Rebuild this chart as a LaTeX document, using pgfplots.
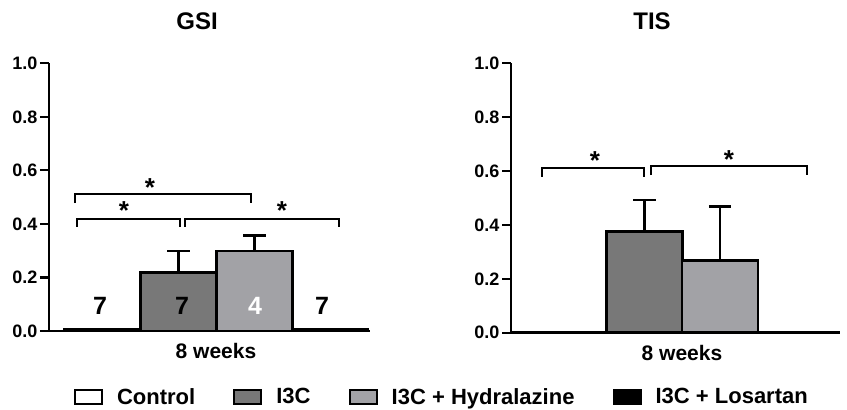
\documentclass[border=0pt]{standalone}
\usepackage{fontspec}
\setmainfont{Liberation Sans}
\usepackage{pgfplots}
\pgfplotsset{compat=1.18}

\definecolor{iiic}{RGB}{120,120,120}
\definecolor{hydra}{RGB}{162,162,166}

% error cap that only runs to the right of the bar centre
% (pgfplots turns the mark by 90 degrees for y error bars)
\pgfdeclareplotmark{halfcap}{%
  \pgfpathmoveto{\pgfqpoint{0pt}{1.2pt}}%
  \pgfpathlineto{\pgfqpoint{0pt}{-21pt}}%
  \pgfusepathqstroke}

\pgfplotsset{
  panel/.style={
    scale only axis, clip=false,
    axis lines=left, axis line style={-, line width=2.6pt},
    ymin=0, ymax=1,
    ytick={0,0.2,0.4,0.6,0.8,1.0},
    yticklabels={0.0,0.2,0.4,0.6,0.8,1.0},
    yticklabel style={font=\fontsize{18}{18}\selectfont\bfseries, xshift=1pt},
    ytick style={line width=2.2pt, black},
    tick align=outside, major tick length=9pt,
    xtick style={draw=none},
    xticklabel style={font=\fontsize{21}{21}\selectfont\bfseries, yshift=0pt},
    xticklabels={8 weeks},
    error bars/y dir=plus, error bars/y explicit,
    error bars/error mark=halfcap,
    error bars/error bar style={line width=2.4pt, black},
    error bars/error mark options={line width=2.4pt, black},
  },
  gbar/.style={ybar, bar shift=0pt, bar width=76, draw=black, line width=2.6pt,
    legend image code/.code={%
      \draw[##1, line width=2.2pt] (0pt,-7pt) rectangle (27pt,7pt);
      \path[draw=none, fill=none] (0pt,0pt) -- (40pt,0pt);}},
}

\begin{document}
\begin{tikzpicture}
\useasboundingbox (0,0) rectangle (847pt,410pt);

% ---------- GSI ----------
\begin{axis}[panel, at={(49pt,79pt)}, anchor=south west,
  width=321pt, height=267.7pt, xmin=49, xmax=370, xtick={216},
  legend columns=4,
  legend style={at={(axis description cs:1.224,-0.2465)}, anchor=center,
    draw=none, fill=none, font=\fontsize{22}{22}\selectfont\bfseries,
    /tikz/every even column/.append style={column sep=36pt}},
]
\addplot[gbar, fill=white] coordinates {(102.5,0.008)};
\addplot[gbar, fill=iiic] coordinates {(178.5,0.219) +- (0,0.080)};
\addplot[gbar, fill=hydra] coordinates {(254.5,0.299) +- (0,0.057)};
\addplot[gbar, fill=black] coordinates {(330,0.008)};
\legend{Control, I3C, I3C + Hydralazine, I3C + Losartan}

\draw[line width=2.2pt] (axis cs:75,0.478) -- (axis cs:75,0.512) -- (axis cs:251,0.512) -- (axis cs:251,0.478);
\draw[line width=2.2pt] (axis cs:77,0.389) -- (axis cs:77,0.418) -- (axis cs:180,0.418) -- (axis cs:180,0.389);
\draw[line width=2.2pt] (axis cs:185,0.389) -- (axis cs:185,0.418) -- (axis cs:339,0.418) -- (axis cs:339,0.389);
\node[font=\fontsize{26}{26}\selectfont\bfseries] at (axis cs:150,0.535) {*};
\node[font=\fontsize{26}{26}\selectfont\bfseries] at (axis cs:124,0.449) {*};
\node[font=\fontsize{26}{26}\selectfont\bfseries] at (axis cs:282,0.449) {*};

\node[font=\fontsize{25}{25}\selectfont\bfseries] at (axis cs:100,0.095) {7};
\node[font=\fontsize{25}{25}\selectfont\bfseries] at (axis cs:182,0.095) {7};
\node[font=\fontsize{25}{25}\selectfont\bfseries, text=white] at (axis cs:255,0.095) {4};
\node[font=\fontsize{25}{25}\selectfont\bfseries] at (axis cs:322,0.095) {7};
\end{axis}

% ---------- TIS ----------
\begin{axis}[panel, at={(511pt,77.3pt)}, anchor=south west,
  width=329pt, height=269.4pt, xmin=511, xmax=840, xtick={682},
]
\addplot[gbar, fill=iiic] coordinates {(644.5,0.375) +- (0,0.117)};
\addplot[gbar, fill=hydra] coordinates {(720,0.267) +- (0,0.201)};

\draw[line width=2.2pt] (axis cs:542,0.579) -- (axis cs:542,0.612) -- (axis cs:644,0.612) -- (axis cs:644,0.579);
\draw[line width=2.2pt] (axis cs:651,0.585) -- (axis cs:651,0.619) -- (axis cs:807,0.619) -- (axis cs:807,0.585);
\node[font=\fontsize{26}{26}\selectfont\bfseries] at (axis cs:595,0.638) {*};
\node[font=\fontsize{26}{26}\selectfont\bfseries] at (axis cs:729,0.643) {*};
\end{axis}

\node[font=\fontsize{24}{24}\selectfont\bfseries] at (197pt,389pt) {GSI};
\node[font=\fontsize{24}{24}\selectfont\bfseries] at (652pt,389pt) {TIS};
\end{tikzpicture}
\end{document}
